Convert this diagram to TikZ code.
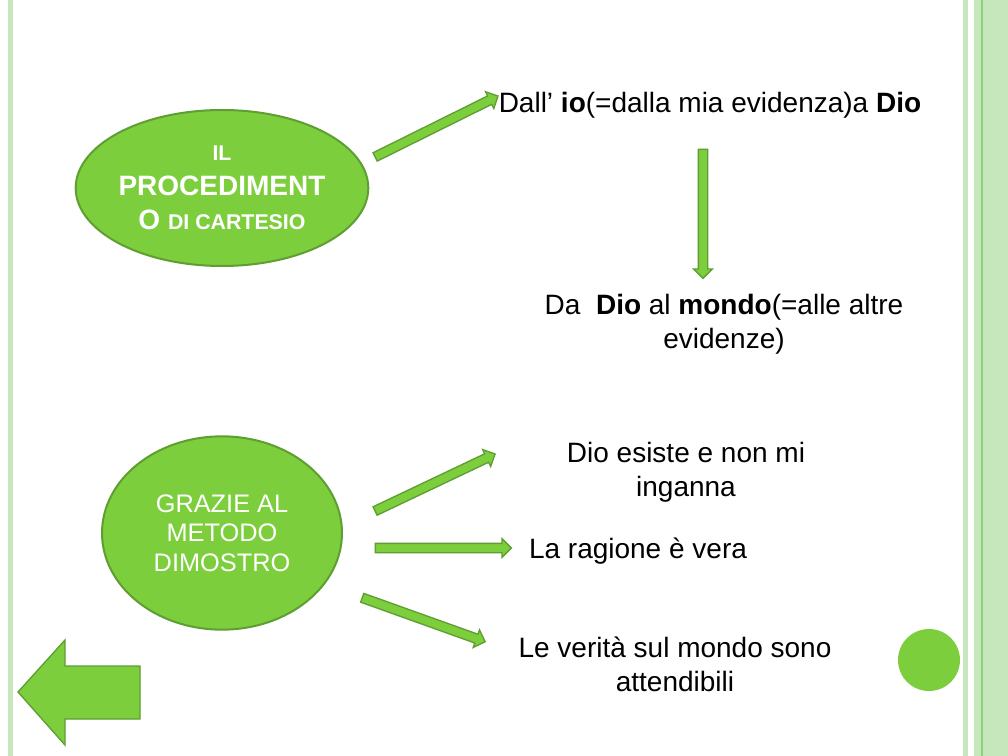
\documentclass[tikz,border=0pt]{standalone}
\usepackage{fontspec}
\setmainfont{Liberation Sans}
\usetikzlibrary{calc, shapes.arrows, shapes.geometric}
\definecolor{leafgreen}{HTML}{7DCE3C}
\definecolor{edgegreen}{HTML}{5E9E32}
\definecolor{palegreen}{HTML}{C6E6BC}
\definecolor{linegreen}{HTML}{8FD07A}

\tikzset{
  blob/.style={ellipse, fill=leafgreen, draw=edgegreen, line width=1.5pt, text=white, align=center, inner sep=0pt},
  fatarr/.style={single arrow, fill=leafgreen, draw=edgegreen, line width=1pt, inner sep=3pt,
    single arrow head extend=3.5pt, minimum width=13pt},
  say/.style={font=\fontsize{21}{25.5}\selectfont, align=center}
}
\newcommand\fatarrow[3]{%
  \path let \p1=($#3-#2$), \n1={atan2(\y1,\x1)}, \n2={veclen(\x1,\y1)} in
    node[fatarr, minimum height=\n2, rotate=\n1] (#1) at ($#2!0.5!#3$) {};}

\begin{document}
\begin{tikzpicture}[x=0.75pt,y=-0.75pt]
  \useasboundingbox (0,0) rectangle (1008,756);
  \fill[white] (0,0) rectangle (1008,756);
  % borders
  \fill[palegreen] (8,0) rectangle (13,756);
  \fill[palegreen] (963,0) rectangle (968,756);
  \fill[palegreen] (974,0) rectangle (1008,756);
  \draw[linegreen, line width=0.8pt] (982,0) -- (982,756);

  % ellipses
  \node[blob, minimum width=175pt, minimum height=117pt, font=\bfseries\fontsize{21}{26}\selectfont] (proc) at (222,188)
    {{\fontsize{16}{26}\selectfont IL}\\PROCEDIMENT\\O {\fontsize{16}{26}\selectfont DI CARTESIO}};
  \node[blob, minimum width=180pt, minimum height=145pt, font=\fontsize{19}{22}\selectfont] (metodo) at (222,533)
    {GRAZIE AL\\METODO\\DIMOSTRO};

  % texts
  \node[say] (ioDio) at (710,105) {Dall’ \textbf{io}(=dalla mia evidenza)a \textbf{Dio}};
  \node[say] (mondo) at (724,324) {Da\ \ \textbf{Dio} al \textbf{mondo}(=alle altre\\evidenze)};
  \node[say] (esiste) at (686,472) {Dio esiste e non mi\\inganna};
  \node[say] (ragione) at (638,551) {La ragione è vera};
  \node[say] (verita) at (675,664) {Le verità sul mondo sono\\attendibili};

  % arrows
  \coordinate (a1) at (373,158); \coordinate (b1) at (496,97);
  \coordinate (a2) at (703,147); \coordinate (b2) at (703,276);
  \coordinate (a3) at (373,512); \coordinate (b3) at (493,455);
  \coordinate (a4) at (373,548); \coordinate (b4) at (509,548);
  \coordinate (a5) at (360,597); \coordinate (b5) at (483,641);
  \fatarrow{arrA}{(a1)}{(b1)}
  \fatarrow{arrB}{(a2)}{(b2)}
  \fatarrow{arrC}{(a3)}{(b3)}
  \fatarrow{arrD}{(a4)}{(b4)}
  \fatarrow{arrE}{(a5)}{(b5)}

  % back button and dot
  \draw[fill=leafgreen, draw=edgegreen, line width=1pt]
    (18,692) -- (65,640) -- (65,666) -- (140,666) -- (140,719) -- (65,719) -- (65,745) -- cycle;
  \node[circle, fill=leafgreen, minimum size=46.5pt, inner sep=0pt] (dot) at (929,660) {};
\end{tikzpicture}
\end{document}
